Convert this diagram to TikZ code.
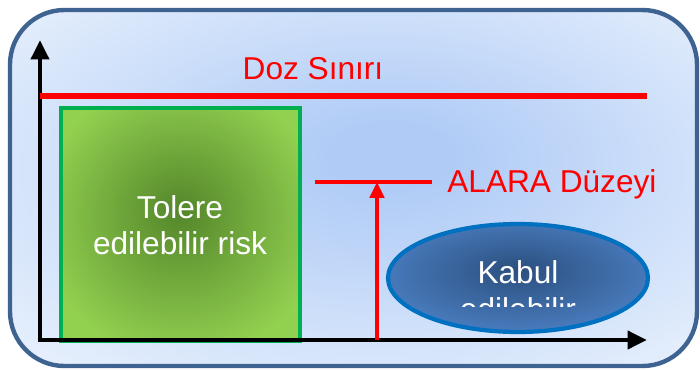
\documentclass[tikz,border=0pt]{standalone}
\usepackage{fontspec}
\setmainfont{Liberation Sans}
\usepackage{xcolor}
\usetikzlibrary{positioning,shapes.geometric,arrows.meta}

\definecolor{frameblue}{HTML}{3F6391}
\definecolor{bgin}{HTML}{AFCBF6}
\definecolor{bgout}{HTML}{E4EEFC}
\definecolor{boxgreen}{HTML}{00B050}
\definecolor{greenin}{HTML}{54862A}
\definecolor{greenout}{HTML}{92D050}
\definecolor{ellborder}{HTML}{0070C0}
\definecolor{bluein}{HTML}{2B4F7E}
\definecolor{blueout}{HTML}{4A7DC0}

% soft radial fills (the shape spans about -25bp..25bp)
\pgfdeclareradialshading{bgsoft}{\pgfpoint{3bp}{5bp}}{color(0bp)=(bgin); color(4bp)=(bgin); color(34bp)=(bgout); color(50bp)=(bgout)}
\pgfdeclareradialshading{greensoft}{\pgfpoint{0bp}{3bp}}{color(0bp)=(greenin); color(30bp)=(greenout); color(50bp)=(greenout)}
\pgfdeclareradialshading{bluesoft}{\pgfpoint{0bp}{4bp}}{color(0bp)=(bluein); color(28bp)=(blueout); color(50bp)=(blueout)}

\tikzset{
    lbl/.style={font=\fontsize{18}{22}\selectfont, inner sep=0pt},
    axisline/.style={line width=2.8pt, -{Triangle[length=11pt,width=10pt]}},
    limitline/.style={red, line width=3.2pt},
}

\begin{document}
\begin{tikzpicture}[x=0.02cm, y=-0.02cm]
        \useasboundingbox (0,0) rectangle (700,369);

        % Point positions
        \coordinate (O) at (40,340);
        \coordinate (Ytop) at (40,40);
        \coordinate (Xend) at (647,340);
        \coordinate (DozL) at (40,96);
        \coordinate (DozR) at (647,96);
        \coordinate (AlaraL) at (315,182);
        \coordinate (AlaraR) at (432,182);
        \coordinate (AlaraFoot) at (377,340);
        \coordinate (AlaraTip) at (377,182);

        % --- Background frame ---
        \path[draw=frameblue, line width=2.5pt, shade, shading=bgsoft,
              rounded corners=31pt] (10,10) rectangle (697,366);

        % --- Green box ---
        \node[draw=boxgreen, line width=2.8pt, shade, shading=greensoft,
              minimum width=4.78cm, minimum height=4.66cm, inner sep=0pt] (tolerebox) at (180.5,224.5) {};
        \node[lbl, white, anchor=base] (tolere1) at (180,218) {Tolere};
        \node[lbl, white, anchor=base] (tolere2) at (180,254) {edilebilir risk};

        % --- Axes ---
        \draw[axisline] (O) -- (Ytop);
        \draw[axisline] ([xshift=-1.4pt]O) -- (Xend);

        % --- Dose limit ---
        \draw[limitline] (DozL) -- (DozR);
        \node[lbl, red, anchor=base] (doz) at (313,79) {Doz Sınırı};

        % --- ALARA level ---
        \draw[red, line width=2.4pt] (AlaraL) -- (AlaraR);
        \draw[red, line width=2.4pt, -{Triangle[length=9pt,width=8pt]}] (AlaraFoot) -- (AlaraTip);
        \node[lbl, red, anchor=base west] (alara) at (447,192) {ALARA Düzeyi};

        % --- Acceptable ellipse ---
        \node[ellipse, draw=ellborder, line width=2.4pt, shade, shading=bluesoft,
              minimum width=5.2cm, minimum height=2.16cm] (kabulell) at (518,278) {};
        \begin{scope}
            \clip (380,220) rectangle (655,306);
            \node[lbl, white, anchor=base] (kabul1) at (518,283) {Kabul};
            \node[lbl, white, anchor=base] (kabul2) at (518,320) {edilebilir};
        \end{scope}
    \end{tikzpicture}
\end{document}
